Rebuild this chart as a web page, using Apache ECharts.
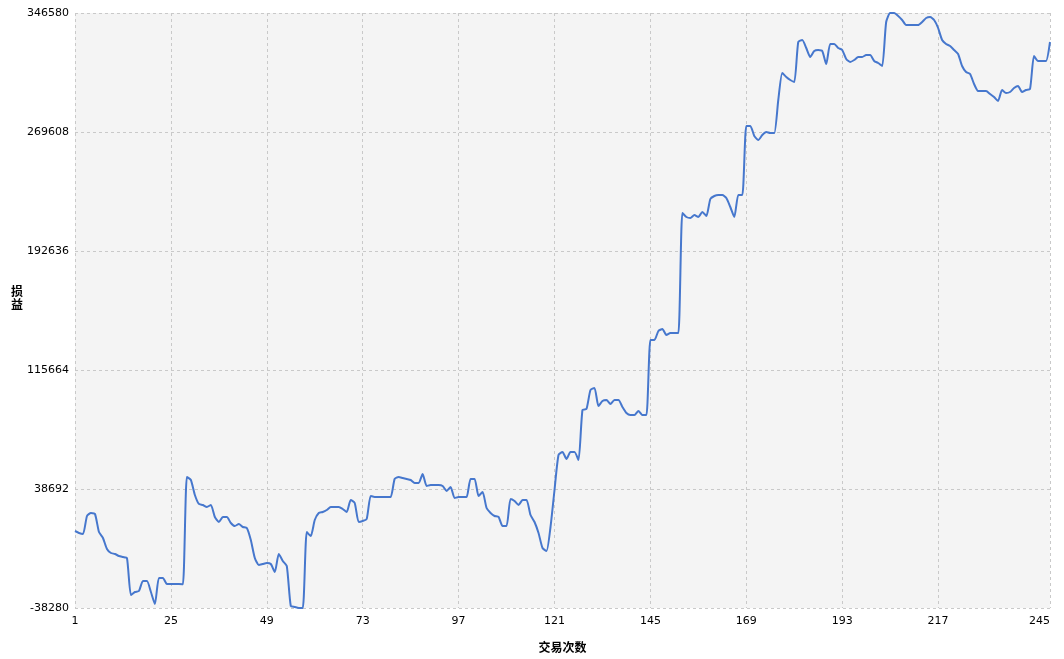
<!DOCTYPE html>
<html>
<head>
<meta charset="utf-8">
<script src="https://cdn.jsdelivr.net/npm/echarts@6/dist/echarts.min.js"></script>
<style>
  html, body { margin: 0; padding: 0; background: #ffffff; }
  #chart { width: 1064px; height: 659px; }
</style>
</head>
<body>
<div id="chart"></div>
<script>
// Cumulative profit/loss after each trade
const pnl = [
  11527, 10233, 9586, 21230, 23170, 22523, 10880, 6999, -116, -2703,
  -3350, -4643, -5290, -5937, -29870, -27930, -27283, -20814, -20814, -27930,
  -35692, -18874, -18874, -22755, -22755, -22755, -22755, -22950, 46457, 44516,
  34814, 28992, 28345, 27052, 28345, 20583, 17348, 20583, 20583, 16702,
  14761, 16055, 14114, 13467, 5705, -5937, -10465, -9818, -9171, -9818,
  -14993, -3350, -7878, -11112, -36985, -37632, -38280, -38280, 10880, 8292,
  18642, 23170, 23817, 25111, 27052, 27052, 27052, 25758, 23817, 31579,
  29639, 17348, 17995, 19289, 34167, 33520, 33520, 33520, 33520, 33520,
  45163, 46457, 45810, 45163, 44516, 42576, 42576, 48398, 40635, 41282,
  41282, 41282, 40635, 37401, 39988, 32873, 33520, 33520, 33520, 45163,
  45163, 34167, 36754, 26405, 23170, 21230, 20583, 14761, 14761, 32226,
  30933, 28345, 31579, 31579, 21877, 17348, 10233, 531, -1409, 14114,
  38048, 60687, 62628, 58100, 62628, 62628, 57453, 89794, 90441, 102731,
  104025, 92382, 95616, 96263, 93675, 96263, 96263, 91735, 87854, 86560,
  86560, 89148, 86560, 86560, 135072, 135072, 140893, 142187, 138306, 139600,
  139600, 139600, 217216, 214630, 213983, 215924, 214630, 217865, 215277, 226273,
  228214, 228861, 228861, 226920, 221099, 214630, 228861, 228861, 273489, 273489,
  267021, 264434, 267668, 269608, 268961, 268961, 290306, 307771, 305183, 303243,
  301949, 327822, 329116, 323941, 318120, 322001, 322648, 322001, 313592, 326529,
  326529, 323941, 322648, 316826, 314886, 316180, 318120, 318120, 319414, 319414,
  315533, 314239, 312298, 340759, 346580, 346580, 344640, 342052, 338818, 338818,
  338818, 338818, 340759, 343346, 343993, 342052, 336878, 329116, 326529, 325235,
  322648, 320061, 312298, 308417, 307124, 300656, 296128, 296128, 296128, 294187,
  292247, 289660, 296775, 294834, 295481, 298068, 299362, 295481, 296775, 297422,
  318767, 315533, 315533, 315533, 327822
];

// Trade numbers 1..N
const trades = pnl.map((_, i) => String(i + 1));

// Y-axis ticks
const yTicks = [-38280, 38692, 115664, 192636, 269608, 346580];

const xName = '交易次数';
const yName = '损益';

const lastIdx = trades.length - 1;
const showX = (idx) => (idx % 24 === 0 && idx < lastIdx - 8) || idx === lastIdx;

const gridDash = { color: '#c9c9c9', width: 1, type: [3, 3] };
const labelFont = { fontFamily: 'DejaVu Sans', fontSize: 11, color: '#000' };

const chart = echarts.init(document.getElementById('chart'), null, { renderer: 'canvas' });
chart.setOption({
  animation: false,
  backgroundColor: '#ffffff',
  grid: {
    left: 75, right: 14, top: 13, bottom: 51,
    containLabel: false,
    outerBoundsMode: 'none',
    show: true, backgroundColor: '#f4f4f4', borderWidth: 0
  },
  xAxis: {
    type: 'category',
    data: trades,
    boundaryGap: false,
    name: xName,
    nameLocation: 'middle',
    nameGap: 33,
    nameMoveOverlap: false,
    nameTextStyle: { fontFamily: 'Noto Sans CJK SC', fontSize: 12, fontWeight: 'bold', color: '#000' },
    axisLine: { show: false },
    axisTick: { show: false },
    axisLabel: Object.assign({ interval: showX, margin: 8, alignMaxLabel: 'right' }, labelFont),
    splitLine: { show: true, interval: showX, lineStyle: gridDash }
  },
  yAxis: {
    type: 'value',
    min: yTicks[0],
    max: yTicks[yTicks.length - 1],
    interval: yTicks[1] - yTicks[0],
    name: yName.split('').join('\n') + '\n \n ',
    nameLocation: 'middle',
    nameRotate: 0,
    nameGap: 52,
    nameMoveOverlap: false,
    nameTextStyle: { fontFamily: 'Noto Sans CJK SC', fontSize: 12, fontWeight: 'bold', color: '#000', lineHeight: 13 },
    axisLine: { show: false },
    axisTick: { show: false },
    axisLabel: Object.assign({ margin: 6, formatter: (v) => String(v) }, labelFont),
    splitLine: { show: true, lineStyle: gridDash }
  },
  series: [{
    type: 'line',
    data: pnl,
    showSymbol: false,
    smooth: 0.2,
    lineStyle: { color: '#4677cd', width: 2 },
    itemStyle: { color: '#4677cd' }
  }]
});
</script>
</body>
</html>
